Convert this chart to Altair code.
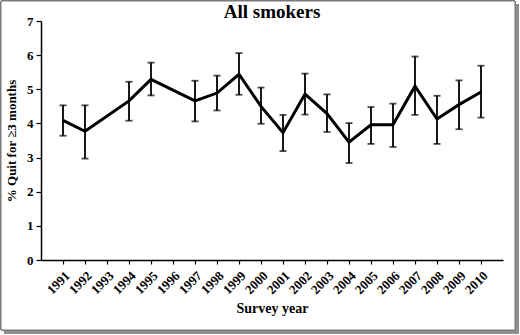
import altair as alt
import pandas as pd

years = [str(y) for y in range(1991, 2011)]
data_years = ["1991", "1992", "1994", "1995", "1997", "1998", "1999", "2000", "2001",
              "2002", "2003", "2004", "2005", "2006", "2007", "2008", "2009", "2010"]
quit_pct = [4.09, 3.77, 4.66, 5.29, 4.66, 4.89, 5.44, 4.50, 3.73,
            4.86, 4.29, 3.45, 3.96, 3.96, 5.09, 4.13, 4.55, 4.92]
ci_upper = [4.53, 4.53, 5.22, 5.78, 5.25, 5.40, 6.06, 5.05, 4.25,
            5.46, 4.85, 4.01, 4.48, 4.58, 5.96, 4.81, 5.26, 5.69]
ci_lower = [3.64, 2.97, 4.08, 4.82, 4.06, 4.38, 4.84, 3.99, 3.19,
            4.26, 3.75, 2.84, 3.40, 3.31, 4.25, 3.40, 3.83, 4.17]

df = pd.DataFrame({"year": data_years, "pct": quit_pct, "hi": ci_upper, "lo": ci_lower})

FONT = "Liberation Serif"

x_enc = alt.X("year:O", scale=alt.Scale(domain=years, type="point", padding=1),
              axis=alt.Axis(title="Survey year", labelAngle=-45, labelAlign="right",
                            labelBaseline="top", labelFontSize=13, labelFontWeight="bold",
                            labelFont=FONT, labelColor="black", labelPadding=5,
                            titleFont=FONT, titleFontSize=14, titleFontWeight="bold",
                            titleColor="black", titlePadding=5, zindex=2,
                            domainColor="black", domainWidth=1.5, tickColor="black",
                            tickSize=4, tickWidth=1.2))
y_scale = alt.Scale(domain=[0, 7], nice=False)
y_axis = alt.Axis(title="% Quit for \u22653 months", values=list(range(8)), grid=False,
                  labelFontSize=13, labelFontWeight="bold", labelFont=FONT,
                  labelColor="black", labelPadding=3, zindex=2,
                  titleFont=FONT, titleFontSize=13, titleFontWeight="bold",
                  titleColor="black", titlePadding=8,
                  domainColor="black", domainWidth=1.5, tickColor="black",
                  tickSize=5, tickWidth=1.2)

base = alt.Chart(df)

shadow = base.mark_rect(fill="#8f8f8f", stroke=None).encode(
    x=alt.value(-37), x2=alt.value(478), y=alt.value(-17), y2=alt.value(313))
frame = base.mark_rect(fill="white", stroke="#7a7a7a", strokeWidth=1).encode(
    x=alt.value(-40), x2=alt.value(474), y=alt.value(-20), y2=alt.value(309))

err = base.mark_errorbar(ticks=alt.MarkConfig(size=7, color="black", strokeWidth=1.8),
                         color="black", thickness=1.8).encode(
    x=x_enc,
    y=alt.Y("lo:Q", scale=y_scale, axis=y_axis),
    y2="hi:Q")
line = base.mark_line(color="black", strokeWidth=3).encode(
    x=x_enc, y=alt.Y("pct:Q", scale=y_scale, axis=y_axis))

chart = alt.layer(shadow, frame, err, line).properties(
    width=462, height=239,
    title=alt.TitleParams("All smokers", font=FONT, fontSize=19, fontWeight="bold",
                          color="black", anchor="middle", offset=0, dy=21, zindex=2),
    autosize=alt.AutoSizeParams(type="none"),
    padding={"left": 41, "top": 21, "right": 17, "bottom": 75},
).configure_view(stroke=None).configure(background="white")

chart.save("out.html", embed_options={"renderer": "svg", "actions": False})
